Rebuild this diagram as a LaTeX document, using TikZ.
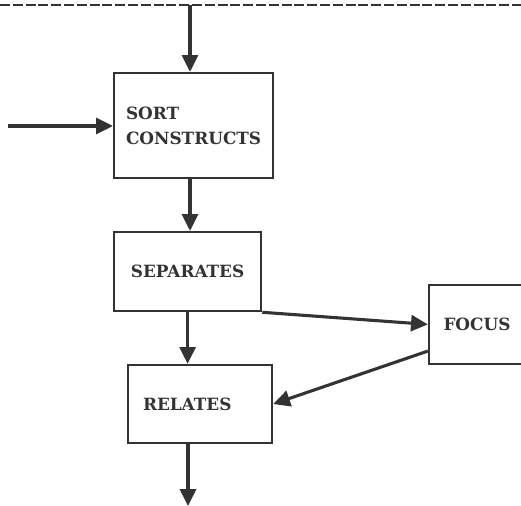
\documentclass[tikz,border=0pt]{standalone}
\usepackage{fontspec}
\setmainfont{DejaVu Serif}
\usetikzlibrary{arrows.meta}
\tikzset{box/.style={draw,line width=1.7pt,rectangle,inner sep=0pt,font=\bfseries\fontsize{12}{18}\selectfont},
	flow/.style={line width=2.2pt,-{Triangle[length=0.42cm,width=0.4cm]}}}
\begin{document}
\begin{tikzpicture}[black!80]
	\useasboundingbox (0,0) rectangle (13.025,12.65);
	%	\draw[gray!20] (0,0)grid(13,12);
	\draw[line width=1.4pt,dash pattern=on 0.25cm off 0.07cm] (0,12.525)--(13.025,12.525);
	\coordinate (top) at (4.75,12.525);
	\coordinate (src) at (0.2,9.5);
	\coordinate (bot) at (4.7,0);
	\node[box,minimum width=3.975cm,minimum height=2.625cm,align=left] (sort) at (4.84,9.51) {SORT\\CONSTRUCTS};
	\node[box,minimum width=3.675cm,minimum height=1.975cm] (sep) at (4.69,5.86) {SEPARATES};
	\node[box,text width=2.85cm,inner xsep=0.375cm,minimum height=1.95cm,align=left] (rel) at (5,2.55) {RELATES};
	\node[box,minimum width=2.4cm,minimum height=1.975cm] (focus) at (11.925,4.54) {FOCUS};
	\draw[flow] (top)--(top|-sort.north);
	\draw[flow] (src)--(src-|sort.west);
	\draw[flow] (top|-sort.south)--(top|-sep.north);
	\draw[flow] (sep.south)--(sep.south|-rel.north);
	\draw[flow] (sep.south east)--(focus.west);
	\draw[flow] ([yshift=0.35cm]focus.south west)--(rel.east);
	\draw[flow] (bot|-rel.south)--(bot);
\end{tikzpicture}
\end{document}
